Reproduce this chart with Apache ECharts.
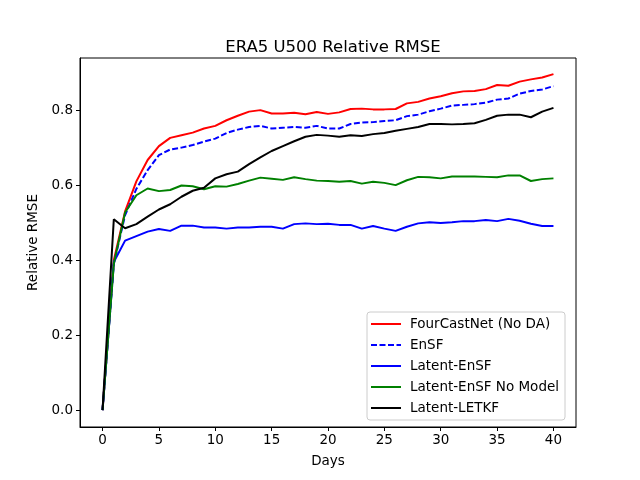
<!DOCTYPE html>
<html>
<head>
<meta charset="utf-8">
<script src="https://cdn.jsdelivr.net/npm/echarts@6/dist/echarts.min.js"></script>
<style>
  html, body { margin: 0; padding: 0; background: #fff; }
  #chart { width: 640px; height: 480px; }
</style>
</head>
<body>
<div id="chart"></div>
<script>
// days 0..40
const days = [];
for (let i = 0; i <= 40; i++) days.push(i);

const fourCastNet = [0, 0.40, 0.53, 0.61, 0.667, 0.704, 0.726, 0.733, 0.74, 0.751, 0.758, 0.773, 0.785, 0.796, 0.80,
    0.791, 0.791, 0.793, 0.789, 0.795, 0.790, 0.794, 0.803, 0.804, 0.802, 0.802, 0.803, 0.818, 0.822, 0.831,
    0.837, 0.845, 0.85, 0.851, 0.856, 0.867, 0.865, 0.876, 0.882, 0.887, 0.896];
const ensf = [0, 0.39, 0.52, 0.59, 0.64, 0.68, 0.695, 0.70, 0.707, 0.716, 0.724, 0.739, 0.748, 0.755, 0.758,
    0.751, 0.753, 0.755, 0.753, 0.758, 0.751, 0.751, 0.763, 0.767, 0.768, 0.771, 0.773, 0.784, 0.788, 0.797,
    0.804, 0.812, 0.814, 0.816, 0.82, 0.828, 0.831, 0.844, 0.851, 0.855, 0.864];
const latentEnsf = [0, 0.395, 0.452, 0.464, 0.476, 0.483, 0.478, 0.492, 0.492, 0.487, 0.487, 0.484, 0.487, 0.487, 0.489,
    0.489, 0.484, 0.496, 0.498, 0.496, 0.497, 0.494, 0.494, 0.484, 0.491, 0.484, 0.478, 0.489, 0.498, 0.501,
    0.499, 0.501, 0.504, 0.504, 0.507, 0.504, 0.51, 0.505, 0.497, 0.491, 0.491];
const latentEnsfNoModel = [0, 0.39, 0.527, 0.573, 0.591, 0.584, 0.587, 0.599, 0.597, 0.589, 0.597, 0.596, 0.603, 0.612, 0.62,
    0.617, 0.614, 0.621, 0.616, 0.612, 0.611, 0.609, 0.611, 0.604, 0.609, 0.606, 0.60, 0.613, 0.622, 0.621,
    0.618, 0.623, 0.623, 0.623, 0.622, 0.621, 0.626, 0.626, 0.611, 0.616, 0.618];
const latentLetkf = [0, 0.509, 0.485, 0.496, 0.516, 0.535, 0.549, 0.569, 0.585, 0.593, 0.618, 0.629, 0.636, 0.656, 0.674,
    0.691, 0.704, 0.717, 0.729, 0.734, 0.732, 0.729, 0.733, 0.731, 0.736, 0.739, 0.745, 0.75, 0.755, 0.763,
    0.763, 0.762, 0.763, 0.765, 0.774, 0.785, 0.788, 0.788, 0.781, 0.796, 0.806];

const xTicks = [0, 5, 10, 15, 20, 25, 30, 35, 40];
const yTicks = [0, 0.2, 0.4, 0.6, 0.8];

const font = 'DejaVu Sans';

function pairs(arr) {
    return arr.map(function(v, i) { return [days[i], v]; });
}

function lineSeries(name, data, color, dashed) {
    return {
        name: name,
        type: 'line',
        data: pairs(data),
        symbol: 'none',
        animation: false,
        lineStyle: { color: color, width: 2, type: dashed ? [6, 2.5] : 'solid' },
        itemStyle: { color: color }
    };
}

const chart = echarts.init(document.getElementById('chart'));
chart.setOption({
    backgroundColor: '#fff',
    animation: false,
    title: {
        text: 'ERA5 U500 Relative RMSE',
        left: 328,
        textAlign: 'center',
        top: 34,
        textStyle: { fontFamily: font, fontSize: 16.5, fontWeight: 'normal', color: '#000' }
    },
    grid: {
        left: 80, right: 64, top: 58, bottom: 53,
        show: true, borderColor: '#000', borderWidth: 1
    },
    legend: {
        orient: 'vertical',
        left: 367,
        top: 312,
        padding: [5, 6, 5, 3],
        itemWidth: 30,
        itemHeight: 14,
        itemGap: 7,
        itemStyle: { opacity: 0 },
        backgroundColor: '#fff',
        borderColor: '#cccccc',
        borderWidth: 1,
        borderRadius: 3,
        textStyle: { fontFamily: font, fontSize: 13.5, color: '#000', padding: [0, 0, 0, 4] },
        data: ['FourCastNet (No DA)', 'EnSF', 'Latent-EnSF', 'Latent-EnSF No Model', 'Latent-LETKF']
    },
    xAxis: {
        type: 'value',
        min: -2,
        max: 42,
        name: 'Days',
        nameLocation: 'middle',
        nameGap: 27,
        nameTextStyle: { fontFamily: font, fontSize: 13.5, color: '#000' },
        splitLine: { show: false },
        axisLine: { show: true, onZero: false, lineStyle: { color: '#000' } },
        axisTick: { show: true, inside: false, length: 4, customValues: xTicks, lineStyle: { color: '#000' } },
        axisLabel: { customValues: xTicks, margin: 6, fontFamily: font, fontSize: 13.5, color: '#000' }
    },
    yAxis: {
        type: 'value',
        min: -0.045,
        max: 0.939,
        name: 'Relative RMSE',
        nameLocation: 'middle',
        nameGap: 38,
        nameTextStyle: { fontFamily: font, fontSize: 13.5, color: '#000' },
        splitLine: { show: false },
        axisLine: { show: true, onZero: false, lineStyle: { color: '#000' } },
        axisTick: { show: true, inside: false, length: 4, customValues: yTicks, lineStyle: { color: '#000' } },
        axisLabel: {
            customValues: yTicks, margin: 7, fontFamily: font, fontSize: 13.5, color: '#000',
            formatter: function(v) { return v.toFixed(1); }
        }
    },
    series: [
        lineSeries('FourCastNet (No DA)', fourCastNet, '#ff0000', false),
        lineSeries('EnSF', ensf, '#0000ff', true),
        lineSeries('Latent-EnSF', latentEnsf, '#0000ff', false),
        lineSeries('Latent-EnSF No Model', latentEnsfNoModel, '#008000', false),
        lineSeries('Latent-LETKF', latentLetkf, '#000000', false)
    ]
});
</script>
</body>
</html>
